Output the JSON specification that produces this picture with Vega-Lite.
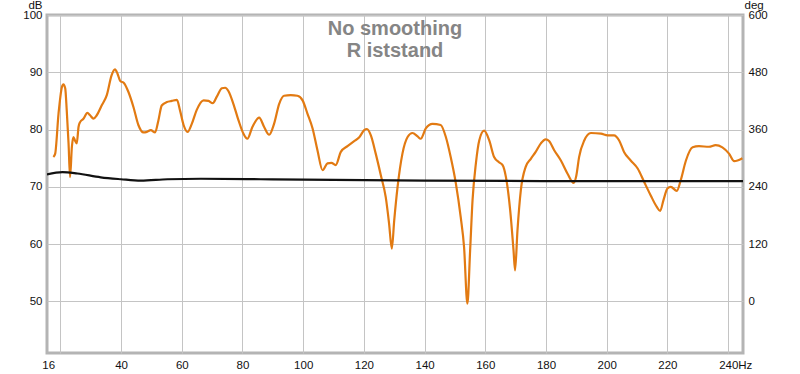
{
  "$schema": "https://vega.github.io/schema/vega-lite/v6.json",
  "width": 696,
  "height": 338,
  "autosize": {"type": "none"},
  "padding": {"left": 47, "top": 15, "right": 57, "bottom": 21},
  "background": "white",
  "config": {
    "view": {"stroke": "#b4b4b4", "strokeWidth": 3},
    "font": "Liberation Sans",
    "axis": {"labelFont": "Liberation Sans", "labelFontSize": 11.5, "labelColor": "#111", "gridColor": "#c4c4c4", "gridWidth": 1, "ticks": false, "tickSize": 0, "domain": false, "labelFlush": false, "titleFont": "Liberation Sans", "titleFontSize": 11.5, "titleFontWeight": "normal", "titleColor": "#111"}
  },
  "title": {
    "text": ["No smoothing", "R iststand"],
    "anchor": "middle",
    "frame": "group",
    "fontSize": 20,
    "fontWeight": "bold",
    "color": "#858585",
    "font": "Liberation Sans",
    "baseline": "top",
    "lineHeight": 22,
    "offset": 0,
    "dy": 61
  },
  "datasets": {
    "spl": [
      {"f": 17.7, "db": 75.2}, {"f": 18.3, "db": 75.8}, {"f": 19.4, "db": 82.8}, {"f": 20.5, "db": 87.4}, {"f": 21.0, "db": 87.9}, {"f": 21.6, "db": 87.2}, {"f": 22.1, "db": 83.4}, {"f": 22.7, "db": 77.6}, {"f": 23.2, "db": 71.7}, {"f": 23.8, "db": 77.0}, {"f": 24.3, "db": 78.7}, {"f": 24.8, "db": 78.1}, {"f": 25.4, "db": 77.6}, {"f": 26.0, "db": 80.5}, {"f": 26.5, "db": 81.3}, {"f": 27.6, "db": 81.9}, {"f": 28.9, "db": 82.9}, {"f": 29.8, "db": 82.5}, {"f": 30.9, "db": 81.9}, {"f": 32.0, "db": 82.5}, {"f": 33.6, "db": 84.2}, {"f": 35.3, "db": 86.0}, {"f": 36.9, "db": 89.5}, {"f": 38.0, "db": 90.5}, {"f": 38.8, "db": 89.8}, {"f": 39.7, "db": 88.5}, {"f": 41.0, "db": 88.1}, {"f": 42.4, "db": 86.6}, {"f": 44.1, "db": 83.9}, {"f": 45.7, "db": 80.8}, {"f": 47.4, "db": 79.5}, {"f": 48.5, "db": 79.6}, {"f": 49.8, "db": 79.9}, {"f": 51.2, "db": 79.5}, {"f": 52.3, "db": 81.6}, {"f": 53.4, "db": 84.2}, {"f": 55.1, "db": 84.8}, {"f": 56.7, "db": 85.0}, {"f": 58.4, "db": 85.2}, {"f": 59.4, "db": 83.4}, {"f": 60.6, "db": 80.8}, {"f": 61.9, "db": 79.6}, {"f": 63.3, "db": 81.0}, {"f": 64.9, "db": 83.4}, {"f": 67.2, "db": 85.1}, {"f": 68.8, "db": 85.0}, {"f": 70.2, "db": 84.6}, {"f": 71.5, "db": 85.7}, {"f": 73.2, "db": 87.2}, {"f": 74.3, "db": 87.3}, {"f": 75.4, "db": 86.7}, {"f": 77.0, "db": 84.5}, {"f": 78.7, "db": 81.6}, {"f": 80.3, "db": 79.3}, {"f": 81.6, "db": 78.4}, {"f": 83.3, "db": 80.5}, {"f": 85.5, "db": 82.1}, {"f": 87.1, "db": 80.5}, {"f": 88.8, "db": 79.1}, {"f": 90.4, "db": 81.0}, {"f": 92.1, "db": 84.5}, {"f": 93.7, "db": 85.9}, {"f": 95.9, "db": 86.0}, {"f": 98.1, "db": 85.9}, {"f": 99.8, "db": 85.1}, {"f": 101.4, "db": 82.8}, {"f": 103.1, "db": 80.2}, {"f": 104.7, "db": 76.4}, {"f": 106.4, "db": 72.9}, {"f": 108.0, "db": 74.1}, {"f": 109.3, "db": 74.2}, {"f": 110.7, "db": 73.8}, {"f": 112.4, "db": 76.1}, {"f": 114.6, "db": 77.1}, {"f": 116.8, "db": 78.0}, {"f": 118.4, "db": 78.6}, {"f": 120.1, "db": 79.9}, {"f": 121.0, "db": 80.1}, {"f": 122.3, "db": 79.0}, {"f": 123.9, "db": 75.8}, {"f": 125.6, "db": 72.0}, {"f": 127.2, "db": 68.2}, {"f": 128.3, "db": 63.6}, {"f": 129.2, "db": 59.2}, {"f": 130.0, "db": 64.2}, {"f": 131.1, "db": 70.0}, {"f": 132.7, "db": 75.8}, {"f": 134.4, "db": 78.7}, {"f": 136.0, "db": 79.4}, {"f": 137.7, "db": 78.8}, {"f": 138.7, "db": 78.4}, {"f": 140.4, "db": 80.2}, {"f": 142.6, "db": 81.0}, {"f": 145.3, "db": 80.8}, {"f": 147.0, "db": 78.7}, {"f": 148.6, "db": 75.2}, {"f": 150.3, "db": 70.6}, {"f": 151.9, "db": 64.7}, {"f": 153.0, "db": 59.5}, {"f": 154.1, "db": 49.6}, {"f": 155.0, "db": 58.9}, {"f": 155.8, "db": 67.7}, {"f": 156.9, "db": 74.1}, {"f": 158.0, "db": 78.1}, {"f": 159.6, "db": 79.8}, {"f": 161.3, "db": 78.1}, {"f": 162.9, "db": 75.2}, {"f": 164.5, "db": 74.3}, {"f": 165.7, "db": 73.8}, {"f": 166.8, "db": 71.7}, {"f": 168.2, "db": 65.9}, {"f": 169.3, "db": 58.9}, {"f": 169.8, "db": 55.4}, {"f": 170.6, "db": 62.4}, {"f": 171.7, "db": 69.4}, {"f": 173.3, "db": 73.5}, {"f": 175.0, "db": 74.9}, {"f": 176.6, "db": 76.1}, {"f": 178.3, "db": 77.6}, {"f": 179.9, "db": 78.3}, {"f": 181.0, "db": 78.0}, {"f": 182.7, "db": 76.4}, {"f": 184.9, "db": 74.6}, {"f": 187.1, "db": 72.3}, {"f": 189.1, "db": 70.7}, {"f": 190.0, "db": 72.0}, {"f": 190.9, "db": 75.2}, {"f": 192.6, "db": 78.1}, {"f": 194.8, "db": 79.4}, {"f": 198.1, "db": 79.3}, {"f": 200.3, "db": 79.0}, {"f": 202.4, "db": 79.0}, {"f": 204.1, "db": 78.1}, {"f": 205.7, "db": 76.1}, {"f": 207.9, "db": 74.6}, {"f": 210.2, "db": 73.2}, {"f": 212.3, "db": 70.9}, {"f": 214.5, "db": 68.5}, {"f": 216.5, "db": 66.5}, {"f": 217.6, "db": 65.8}, {"f": 218.7, "db": 67.7}, {"f": 220.0, "db": 69.7}, {"f": 221.1, "db": 70.0}, {"f": 223.1, "db": 69.3}, {"f": 224.4, "db": 71.2}, {"f": 226.1, "db": 74.6}, {"f": 228.3, "db": 76.9}, {"f": 230.4, "db": 77.1}, {"f": 233.7, "db": 77.0}, {"f": 235.9, "db": 77.3}, {"f": 238.1, "db": 76.9}, {"f": 240.3, "db": 75.8}, {"f": 242.0, "db": 74.5}, {"f": 243.1, "db": 74.6}, {"f": 244.7, "db": 75.0}
    ],
    "phase": [
      {"f": 15.6, "deg": 266}, {"f": 20.7, "deg": 271}, {"f": 25.6, "deg": 268}, {"f": 33.3, "deg": 260}, {"f": 39.9, "deg": 256}, {"f": 46.5, "deg": 253}, {"f": 55.3, "deg": 256}, {"f": 66.3, "deg": 257}, {"f": 86.0, "deg": 256}, {"f": 100.0, "deg": 255}, {"f": 140.0, "deg": 253}, {"f": 200.0, "deg": 252}, {"f": 244.9, "deg": 252}
    ]
  },
  "layer": [
    {
      "data": {"name": "spl"},
      "mark": {"type": "line", "color": "#e27a12", "strokeWidth": 2.2, "interpolate": "monotone", "clip": true},
      "encoding": {
        "x": {
          "field": "f", "type": "quantitative",
          "scale": {"domain": [15.6, 244.9], "nice": false, "zero": false},
          "axis": {
            "title": null,
            "values": [16, 20, 40, 60, 80, 100, 120, 140, 160, 180, 200, 220, 240],
            "labelExpr": "datum.value == 20 ? '' : datum.value == 240 ? '240Hz' : datum.label",
            "labelPadding": 6,
            "labelAlign": {"condition": {"test": "datum.value == 240", "value": "left"}, "value": "center"},
            "labelOffset": {"condition": {"test": "datum.value == 240", "value": -9.5}, "value": 0},
            "gridOpacity": {"condition": {"test": "datum.value == 16", "value": 0}, "value": 1}
          }
        },
        "y": {
          "field": "db", "type": "quantitative",
          "scale": {"domain": [41, 100], "nice": false, "zero": false},
          "axis": {
            "orient": "left",
            "values": [50, 60, 70, 80, 90, 100],
            "labelPadding": 5,
            "title": "dB",
            "titleAngle": 0,
            "titleAlign": "right",
            "titleBaseline": "alphabetic",
            "titleX": -5,
            "titleY": -6.5
          }
        }
      }
    },
    {
      "data": {"name": "phase"},
      "mark": {"type": "line", "color": "#111111", "strokeWidth": 2.2, "interpolate": "monotone", "clip": true},
      "encoding": {
        "x": {"field": "f", "type": "quantitative"},
        "y": {
          "field": "deg", "type": "quantitative",
          "scale": {"domain": [-108, 600], "nice": false, "zero": false},
          "axis": {
            "orient": "right",
            "values": [0, 120, 240, 360, 480, 600],
            "grid": false,
            "labelPadding": 5,
            "title": "deg",
            "titleAngle": 0,
            "titleAlign": "left",
            "titleBaseline": "alphabetic",
            "titleX": 1,
            "titleY": -6.5
          }
        }
      }
    }
  ],
  "resolve": {"scale": {"y": "independent"}}
}
